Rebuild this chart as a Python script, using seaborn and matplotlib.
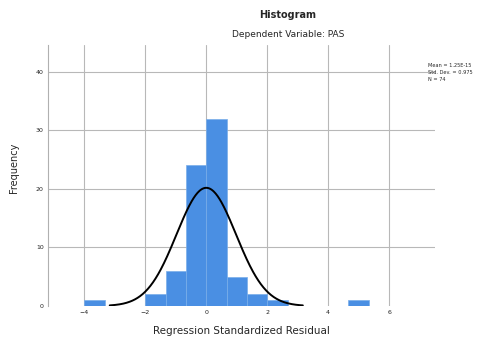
import numpy as np
import pandas as pd
import matplotlib
matplotlib.use("Agg")
import matplotlib.pyplot as plt
import seaborn as sns

# Standardized residual histogram: bin edges (width 2/3) and counts per bin
bin_edges = [-4.0, -3.3333, -2.6667, -2.0, -1.3333, -0.6667, 0.0, 0.6667,
             1.3333, 2.0, 2.6667, 3.3333, 4.0, 4.6667, 5.3333]
bin_counts = [1, 0, 0, 2, 6, 24, 32, 5, 2, 1, 0, 0, 0, 1]

resid_mean = 0.0
resid_sd = 0.975
n_obs = sum(bin_counts)

x_ticks = [-4, -2, 0, 2, 4, 6]
y_ticks = [0, 10, 20, 30, 40]

title = "Histogram"
subtitle = "Dependent Variable: PAS"
x_label = "Regression Standardized Residual"
y_label = "Frequency"
stats_text = ["Mean = 1.25E-15", "Std. Dev. = 0.975", f"N = {n_obs}"]

sns.set_theme(style="white")
plt.rcParams["font.family"] = ["DejaVu Sans"]

centers = [(a + b) / 2 for a, b in zip(bin_edges[:-1], bin_edges[1:])]
df = pd.DataFrame({"resid": centers, "count": bin_counts})

fig = plt.figure(figsize=(4.88, 3.40), dpi=100)
ax = fig.add_axes([0.098, 0.1, 0.793, 0.768])

# grid behind the bars
ax.set_axisbelow(True)
for xt in x_ticks:
    ax.axvline(xt, color="#b8b8b8", lw=0.8, zorder=0)
for yt in y_ticks[1:]:
    ax.axhline(yt, color="#b8b8b8", lw=0.8, zorder=0)

sns.histplot(data=df, x="resid", weights="count", bins=bin_edges, ax=ax,
             color="#4a8fe3", alpha=1.0, edgecolor="#79aeea", linewidth=0.5,
             zorder=2)

# normal curve scaled to counts
bw = bin_edges[1] - bin_edges[0]
xs = np.linspace(resid_mean - 3.25 * resid_sd, resid_mean + 3.25 * resid_sd, 300)
ys = n_obs * bw * np.exp(-0.5 * ((xs - resid_mean) / resid_sd) ** 2) / (resid_sd * np.sqrt(2 * np.pi))
sns.lineplot(x=xs, y=ys, ax=ax, color="black", lw=1.4, zorder=3)

ax.set_xlim(-5.2, 7.5)
ax.set_ylim(0, 44.6)
ax.set_xticks(x_ticks)
ax.set_yticks(y_ticks)
ax.tick_params(axis="both", labelsize=4.5, length=0, pad=3, colors="#222222")
ax.set_xlabel(x_label, fontsize=7.5, labelpad=8)
ax.set_ylabel(y_label, fontsize=7, labelpad=8)
ax.yaxis.set_label_coords(-0.075, 0.53)

for side in ["top", "right", "bottom"]:
    ax.spines[side].set_visible(False)
ax.spines["left"].set_color("#b0b0b0")
ax.spines["left"].set_linewidth(0.8)

fig.text(0.59, 0.955, title, ha="center", va="center", fontsize=7, fontweight="bold")
fig.text(0.59, 0.898, subtitle, ha="center", va="center", fontsize=6.5)
fig.text(0.877, 0.815, "\n".join(stats_text), ha="left", va="top", fontsize=3.6,
         linespacing=1.5)

fig.savefig("out.png", dpi=100)
